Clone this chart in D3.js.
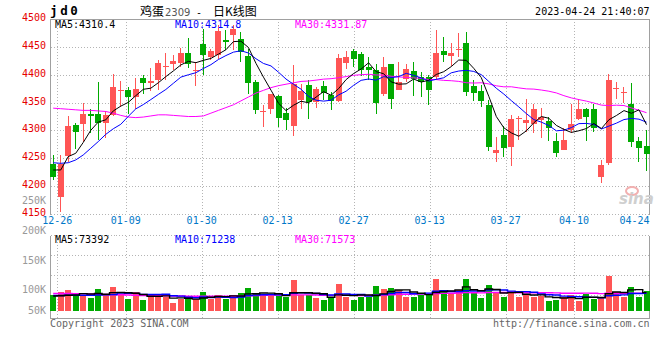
<!DOCTYPE html>
<html><head><meta charset="utf-8">
<script src="https://cdn.jsdelivr.net/npm/d3@7"></script>
<style>html,body{margin:0;padding:0;background:#fff;} svg{display:block;}</style>
</head><body>
<svg id="c" width="660" height="360"></svg>
<script>
const dates = ["12-23","12-26","12-27","12-28","12-29","12-30","01-03","01-04","01-05","01-06",
"01-09","01-10","01-11","01-12","01-13","01-16","01-17","01-18","01-19","01-20",
"01-30","01-31","02-01","02-02","02-03","02-06","02-07","02-08","02-09","02-10",
"02-13","02-14","02-15","02-16","02-17","02-20","02-21","02-22","02-23","02-24",
"02-27","02-28","03-01","03-02","03-03","03-06","03-07","03-08","03-09","03-10",
"03-13","03-14","03-15","03-16","03-17","03-20","03-21","03-22","03-23","03-24",
"03-27","03-28","03-29","03-30","03-31","04-03","04-04","04-06","04-07","04-10",
"04-11","04-12","04-13","04-14","04-17","04-18","04-19","04-20","04-21","04-24"];

const open = [4240,4181,4254,4309,4311,4329,4329,4314,4328,4371,
4372,4360,4395,4386,4390,4413,4420,4421,4439,4407,
4455,4432,4435,4463,4471,4464,4434,4387,4333,4339,
4362,4331,4308,4354,4381,4351,4380,4363,4353,4421,
4442,4437,4414,4409,4366,4419,4372,4393,4406,4396,
4396,4396,4442,4433,4444,4457,4379,4371,4345,4260,
4292,4271,4320,4314,4312,4319,4317,4281,4265,4301,
4320,4338,4339,4216,4241,4374,4368,4347,4281,4272];

const close = [4217,4240,4308,4298,4329,4326,4314,4328,4378,4372,
4360,4374,4385,4388,4421,4415,4425,4439,4420,4409,
4436,4442,4478,4459,4482,4440,4385,4336,4335,4365,
4323,4319,4384,4371,4351,4374,4368,4352,4430,4432,
4429,4408,4408,4350,4414,4356,4387,4411,4393,4387,
4372,4439,4436,4439,4446,4369,4367,4353,4271,4265,
4268,4321,4323,4319,4338,4324,4305,4259,4283,4311,
4339,4325,4304,4238,4390,4377,4369,4280,4269,4257];

const high = [4256,4256,4326,4313,4350,4338,4387,4335,4401,4388,
4378,4394,4400,4412,4427,4439,4436,4448,4466,4423,
4482,4447,4489,4480,4490,4476,4447,4390,4345,4366,
4363,4340,4417,4384,4390,4378,4388,4369,4438,4442,
4447,4440,4432,4420,4431,4420,4423,4420,4423,4405,
4399,4480,4468,4457,4475,4477,4391,4381,4354,4289,
4308,4328,4326,4356,4348,4341,4325,4295,4304,4347,
4357,4341,4347,4247,4401,4387,4378,4385,4288,4300];

const low = [4211,4153,4244,4266,4280,4296,4282,4287,4326,4342,
4329,4339,4365,4371,4372,4390,4408,4414,4412,4380,
4400,4426,4429,4445,4444,4423,4365,4329,4307,4330,
4307,4301,4290,4339,4320,4341,4354,4336,4351,4411,
4413,4397,4390,4329,4362,4338,4372,4387,4362,4360,
4345,4391,4423,4415,4432,4362,4352,4342,4263,4244,
4253,4236,4283,4298,4295,4287,4281,4253,4265,4295,
4319,4281,4298,4205,4238,4356,4350,4271,4244,4228];

const volume = [62700,76100,84100,62700,62700,53400,88100,66800,96100,66800,
48100,76100,44100,58700,68100,54700,32000,49400,52100,49400,
76100,49400,64100,49400,64100,72100,92100,68100,62700,62700,
60100,54700,124200,62700,62700,52100,44100,54700,108100,57400,
44100,54700,54700,100100,88100,92100,84100,57400,57400,64100,
64100,128200,74800,68100,84100,127000,72100,53400,104710,72100,
57400,80100,57400,66800,57400,60100,40100,45400,57400,64100,
40100,68100,46700,52100,138420,76100,57400,97500,57400,78560];

// moving-average values for the days before enough history is shown
const ma5Head = [4229,4229,4253,4259];
const ma10Head = [4242,4241,4242,4247,4256,4268,4280,4293,4303];
const ma30Head = [4340,4339,4338,4337,4336,4336,4335,4334,4331,4327,4324,4323,4324,4326,4328,4328,4327,4326,4325,4325,4326,4331,4336,4341,4346,4353,4360,4367,4372];
const volMa5Head = [60000,61000,63000,64000];
const volMa10Head = [62000,62000,63000,63000,63000,63000,64000,65000,66000];
const volMa30Head = [70000,70000,70000,69000,69000,68000,67000,66000,65000,65000,64000,63000,62000,62000,61000,61000,60000,60000,59000,59000,59000,59000,59000,59000,60000,60000,61000,62000,63000];

const priceTicks = [4500,4450,4400,4350,4300,4250,4200,4150];
const dateTicks = ["12-26","01-09","01-30","02-13","02-27","03-13","03-27","04-10","04-24"];
const volTickLabels = ["250K","200K","150K","100K","50K"];

// ---------- layout ----------
const L = 50.5, R = 649.5;
const pTop = 19, pBot = 214;
const vTop = 235.5, vBot = 318.5, vBase = 311;
const volLabelY = [204, 234.3, 264, 293.3, 314];
const volGridY = [255.5, 275.5, 295.5];
const mono = "'DejaVu Sans Mono', monospace";
const RED = "#ff5555", GREEN = "#00aa00";
const GRID = "#b4b4b4";

const svg = d3.select("#c");
const y = d3.scaleLinear().domain([4150, 4500]).range([pBot, pTop]);
const x = d3.scalePoint().domain(dates).range([52.7, 646]);
const xg = d3.scalePoint().domain(dates).range([49.7, 650]);
const yv = d3.scaleLinear().domain([0, 200000]).range([vBase, vBase - 50]);

function movingAvg(arr, n, head) {
  return arr.map((_, i) => i < n - 1 ? head[i] : d3.mean(arr.slice(i - n + 1, i + 1)));
}
const ma5 = movingAvg(close, 5, ma5Head);
const ma10 = movingAvg(close, 10, ma10Head);
const ma30 = movingAvg(close, 30, ma30Head);
const vma5 = movingAvg(volume, 5, volMa5Head);
const vma10 = movingAvg(volume, 10, volMa10Head);
const vma30 = movingAvg(volume, 30, volMa30Head);

const px = v => Math.round(v) + 0.5;

// ---------- grid ----------
const g = svg.append("g").attr("shape-rendering", "crispEdges");
// horizontal price grid
g.selectAll("line.hp").data(priceTicks.slice(1)).join("line")
  .attr("x1", L).attr("x2", R)
  .attr("y1", d => px(y(d))).attr("y2", d => px(y(d)))
  .attr("stroke", GRID).attr("stroke-dasharray", "1,2");
// vertical grid (price & volume)
const vt = dateTicks.slice(0, -1);
g.selectAll("line.vp").data(vt).join("line")
  .attr("x1", d => px(xg(d))).attr("x2", d => px(xg(d)))
  .attr("y1", pTop).attr("y2", pBot)
  .attr("stroke", GRID).attr("stroke-dasharray", "1,2");
g.selectAll("line.vv").data(vt).join("line")
  .attr("x1", d => px(xg(d))).attr("x2", d => px(xg(d)))
  .attr("y1", vTop).attr("y2", vBot)
  .attr("stroke", GRID).attr("stroke-dasharray", "1,2");
// volume horizontal grid
g.selectAll("line.hv").data([vTop].concat(volGridY)).join("line")
  .attr("x1", L).attr("x2", R).attr("y1", d => d).attr("y2", d => d)
  .attr("stroke", GRID).attr("stroke-dasharray", "1,2");
// frames
const FR = "#a0a0a0";
g.append("line").attr("x1", L).attr("x2", R).attr("y1", pTop + 0.5).attr("y2", pTop + 0.5).attr("stroke", FR);
g.append("line").attr("x1", L).attr("x2", L).attr("y1", pTop).attr("y2", pBot + 1).attr("stroke", FR);
g.append("line").attr("x1", R).attr("x2", R).attr("y1", pTop).attr("y2", pBot + 1).attr("stroke", FR);
g.append("line").attr("x1", L).attr("x2", L).attr("y1", vTop).attr("y2", vBot).attr("stroke", FR);
g.append("line").attr("x1", R).attr("x2", R).attr("y1", vTop).attr("y2", vBot).attr("stroke", FR);
g.append("line").attr("x1", L).attr("x2", R + 0.5).attr("y1", vBot).attr("y2", vBot).attr("stroke", FR);

// ---------- watermark ----------
svg.append("ellipse").attr("cx", 632).attr("cy", 191).attr("rx", 6).attr("ry", 4)
  .attr("fill", "none").attr("stroke", "#f2b0b0").attr("stroke-width", 2);
svg.append("text").attr("x", 619).attr("y", 204).text("sina")
  .attr("font-family", "'DejaVu Sans', sans-serif").attr("font-size", 15)
  .attr("font-style", "italic").attr("font-weight", "bold").attr("fill", "#cfcfcf");

// ---------- candles ----------
const idx = d3.range(dates.length);
const col = i => close[i] >= open[i] ? RED : GREEN;
const cg = svg.append("g").attr("shape-rendering", "crispEdges");
cg.selectAll("line.w").data(idx).join("line")
  .attr("x1", i => px(x(dates[i]))).attr("x2", i => px(x(dates[i])))
  .attr("y1", i => y(high[i])).attr("y2", i => y(low[i]))
  .attr("stroke", col);
cg.selectAll("rect.b").data(idx).join("rect")
  .attr("x", i => Math.round(x(dates[i]) - 2.5)).attr("width", 6)
  .attr("y", i => y(Math.max(open[i], close[i])))
  .attr("height", i => Math.max(1, y(Math.min(open[i], close[i])) - y(Math.max(open[i], close[i]))))
  .attr("fill", col);

// ---------- price MAs ----------
const line = d3.line().x((d, i) => x(dates[i]) + 0.5).y(d => y(d));
[[ma30, "#ff00ff"], [ma10, "#0000ff"], [ma5, "#000000"]].forEach(([arr, c]) => {
  svg.append("path").attr("d", line(arr)).attr("fill", "none").attr("stroke", c).attr("stroke-width", 1);
});

// ---------- volume ----------
const vg = svg.append("g").attr("shape-rendering", "crispEdges");
vg.selectAll("rect.v").data(idx).join("rect")
  .attr("x", i => Math.round(x(dates[i]) - 2.5)).attr("width", 6)
  .attr("y", i => yv(volume[i])).attr("height", i => yv(0) - yv(volume[i]))
  .attr("fill", col);
const vline = d3.line().x((d, i) => x(dates[i]) + 0.5).y(d => yv(d)).curve(d3.curveStep);
[[vma30, "#ff00ff"], [vma10, "#0000ff"], [vma5, "#000000"]].forEach(([arr, c]) => {
  svg.append("path").attr("d", vline(arr)).attr("fill", "none").attr("stroke", c).attr("stroke-width", 1.4);
});

// ---------- texts ----------
const T = (xx, yy, s, opts = {}) => svg.append("text").attr("x", xx).attr("y", yy).text(s)
  .attr("font-family", opts.family || mono).attr("font-size", opts.size || 10)
  .attr("fill", opts.fill || "#000").attr("text-anchor", opts.anchor || "start")
  .attr("font-weight", opts.weight || "normal");

// price axis labels
svg.selectAll("text.pl").data(priceTicks).join("text")
  .attr("x", 46).attr("y", d => y(d) + 2).text(d => d)
  .attr("font-family", mono).attr("font-size", 10).attr("fill", "#e60000").attr("text-anchor", "end");
// volume axis labels
svg.selectAll("text.vl").data(volTickLabels).join("text")
  .attr("x", 46).attr("y", (d, i) => volLabelY[i]).text(d => d)
  .attr("font-family", mono).attr("font-size", 10).attr("fill", "#999").attr("text-anchor", "end");
// date labels
svg.selectAll("text.dl").data(dateTicks).join("text")
  .attr("x", (d, i) => i === dateTicks.length - 1 ? R : xg(d))
  .attr("y", 224.3).text(d => d)
  .attr("font-family", mono).attr("font-size", 10).attr("fill", "#0078c8")
  .attr("text-anchor", (d, i) => i === dateTicks.length - 1 ? "end" : "middle");

// header
T(50, 14.5, "jd0", { size: 12.5, weight: "bold" }).attr("letter-spacing", 2.6);
const tt = svg.append("text").attr("y", 15.5).attr("font-size", 12).attr("fill", "#000");
tt.append("tspan").attr("x", 140).attr("font-family", "'Noto Sans CJK SC', sans-serif").text("鸡蛋");
tt.append("tspan").attr("x", 165).attr("font-family", "'DejaVu Sans', sans-serif").attr("font-size", 10).attr("fill", "#555").text("2309");
tt.append("tspan").attr("x", 196).attr("font-family", mono).attr("font-size", 10).text("-");
tt.append("tspan").attr("x", 213).attr("font-family", "'Noto Sans CJK SC', sans-serif").text("日K线图");
T(R, 15, "2023-04-24 21:40:07", { anchor: "end" });

// legends
const last = dates.length - 1;
T(55, 27.5, "MA5:" + d3.format(".1f")(ma5[last]));
T(175, 27.5, "MA10:" + d3.format(".1f")(ma10[last]), { fill: "#0000ff" });
T(295, 27.5, "MA30:" + d3.format(".2f")(ma30[last]), { fill: "#ff00ff" });
T(55, 243, "MA5:" + Math.round(vma5[last]));
T(175, 243, "MA10:" + Math.round(vma10[last]), { fill: "#0000ff" });
T(295, 243, "MA30:" + Math.round(vma30[last]), { fill: "#ff00ff" });

// footer
T(50, 327, "Copyright 2023 SINA.COM", { fill: "#666" });
T(R, 327, "http://finance.sina.com.cn", { fill: "#666", anchor: "end" });
</script>
</body></html>
